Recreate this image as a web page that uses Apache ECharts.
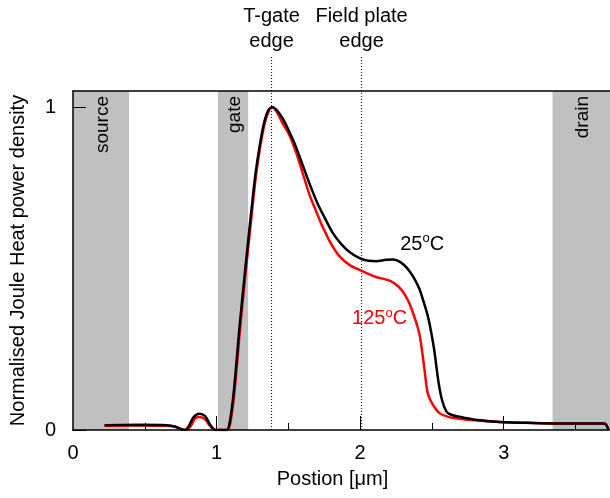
<!DOCTYPE html>
<html>
<head>
<meta charset="utf-8">
<script src="https://cdn.jsdelivr.net/npm/echarts@6/dist/echarts.min.js"></script>
<style>
  html, body { margin: 0; padding: 0; background: #fff; }
  #chart { width: 610px; height: 498px; }
</style>
</head>
<body>
<div id="chart"></div>
<script>
// position along the device [um] and normalised Joule heat density
const blackX = [0.22, 0.45, 0.65, 0.71, 0.75, 0.78, 0.81, 0.84, 0.88, 0.92, 0.95, 0.98, 1.00, 1.07,
  1.09, 1.12, 1.16, 1.20, 1.24, 1.27, 1.30, 1.33, 1.36, 1.39, 1.42, 1.46, 1.50, 1.55, 1.60, 1.65,
  1.70, 1.75, 1.81, 1.87, 1.93, 2.02, 2.11, 2.18, 2.23, 2.28, 2.33, 2.37, 2.41, 2.44, 2.47, 2.485,
  2.515, 2.545, 2.57, 2.60, 2.63, 2.70, 2.80, 2.97, 3.20, 3.50, 3.70, 3.73];
const blackY = [0.015, 0.016, 0.015, 0.011, 0.003, 0.0, 0.015, 0.04, 0.05, 0.043, 0.02, 0.002, 0.0, 0.0,
  0.02, 0.12, 0.32, 0.50, 0.67, 0.79, 0.88, 0.95, 0.99, 1.0, 0.99, 0.965, 0.93, 0.88, 0.82, 0.76,
  0.705, 0.66, 0.61, 0.575, 0.55, 0.528, 0.523, 0.527, 0.528, 0.52, 0.50, 0.474, 0.44, 0.40, 0.355, 0.325,
  0.25, 0.15, 0.093, 0.058, 0.048, 0.04, 0.032, 0.025, 0.022, 0.02, 0.02, 0.0];

const redX = [0.22, 0.45, 0.65, 0.71, 0.75, 0.79, 0.82, 0.85, 0.88, 0.92, 0.95, 0.98, 1.00, 1.075,
  1.095, 1.125, 1.165, 1.205, 1.245, 1.275, 1.305, 1.335, 1.365, 1.39, 1.42, 1.46, 1.50, 1.55, 1.60, 1.65,
  1.70, 1.74, 1.80, 1.86, 1.93, 2.00, 2.11, 2.21, 2.27, 2.31, 2.34, 2.37, 2.40, 2.42, 2.45, 2.47,
  2.50, 2.55, 2.62, 2.69, 2.80, 2.97, 3.20, 3.50, 3.70, 3.73];
const redY = [0.013, 0.014, 0.013, 0.01, 0.003, 0.0, 0.012, 0.035, 0.04, 0.033, 0.015, 0.002, 0.0, 0.0,
  0.02, 0.12, 0.32, 0.50, 0.67, 0.79, 0.88, 0.95, 0.99, 1.0, 0.985, 0.95, 0.92, 0.865, 0.795, 0.725,
  0.67, 0.628, 0.575, 0.536, 0.51, 0.495, 0.474, 0.462, 0.443, 0.42, 0.395, 0.36, 0.319, 0.28, 0.18, 0.115,
  0.083, 0.053, 0.04, 0.035, 0.03, 0.025, 0.022, 0.02, 0.02, 0.0];

// electrode regions (grey bands) and their names
const regionNames = ['source', 'gate', 'drain'];
const regionStart = [0, 1.01, 3.34];
const regionEnd = [0.39, 1.22, 3.74];

// vertical marker lines
const edgeNames = ['T-gate\nedge', 'Field plate\nedge'];
const edgeX = [1.383, 2.01];
const edgeTop = 1.16;

// curve labels
const curveNames = ['25', '125'];
const curveLabelX = [2.275, 1.94];
const curveLabelY = [0.576, 0.344];

const xMajorTicks = [1, 2, 3];
const xMinorTicks = [0.5, 1.5, 2.5, 3.5];
const xLabels = [0, 1, 2, 3];
const yTicks = [0, 1];

const FONT = 'Liberation Sans, Arial, sans-serif';

const chart = echarts.init(document.getElementById('chart'));

const tempLabel = (name, color) => ({
    show: true,
    position: 'right',
    distance: 0,
    formatter: name + '{sup|o}C',
    color: color,
    fontSize: 20,
    fontFamily: FONT,
    rich: {
        sup: { fontSize: 13, fontFamily: FONT, color: color, padding: [0, 0, 12, 0] }
    }
});

const edgeSeries = edgeX.map((x, i) => ({
    type: 'line',
    clip: false,
    silent: true,
    symbol: 'circle',
    symbolSize: 1,
    showSymbol: true,
    z: 4,
    itemStyle: { color: 'transparent' },
    lineStyle: { color: '#000', width: 1, type: [1, 2] },
    data: [
        [x, 0],
        {
            value: [x, edgeTop],
            label: {
                show: true,
                position: 'top',
                distance: 1,
                formatter: edgeNames[i],
                color: '#000',
                fontSize: 20,
                lineHeight: 25,
                fontFamily: FONT
            }
        }
    ]
}));

const option = {
    animation: false,
    backgroundColor: '#fff',
    textStyle: { fontFamily: FONT },
    grid: { left: 73, right: 0, top: 91, bottom: 68, outerBoundsMode: 'none' },
    xAxis: [
        {
            type: 'value',
            position: 'bottom',
            min: 0,
            max: 3.74,
            z: 10,
            axisLine: { onZero: false, lineStyle: { color: '#000', width: 1.5 } },
            axisTick: { inside: true, length: 14, customValues: xMajorTicks, lineStyle: { color: '#000', width: 1 } },
            axisLabel: { customValues: xLabels, margin: 13, color: '#000', fontSize: 20, fontFamily: FONT },
            splitLine: { show: false },
            name: 'Postion [\u03bcm]',
            nameLocation: 'middle',
            nameGap: 39,
            nameTextStyle: { color: '#000', fontSize: 20, fontFamily: FONT, padding: [0, 18, 0, 0] }
        },
        {
            type: 'value',
            position: 'bottom',
            min: 0,
            max: 3.74,
            z: 10,
            axisLine: { show: false, onZero: false },
            axisTick: { inside: true, length: 7, customValues: xMinorTicks, lineStyle: { color: '#000', width: 1 } },
            axisLabel: { show: false },
            splitLine: { show: false }
        },
        {
            type: 'value',
            position: 'top',
            min: 0,
            max: 3.74,
            z: 10,
            axisLine: { onZero: false, lineStyle: { color: '#000', width: 1.5 } },
            axisTick: { show: false },
            axisLabel: { show: false },
            splitLine: { show: false }
        }
    ],
    yAxis: {
        type: 'value',
        min: 0,
        max: 1.05,
        z: 10,
        axisLine: { show: true, onZero: false, lineStyle: { color: '#000', width: 1.5 } },
        axisTick: { show: true, inside: true, length: 13, customValues: yTicks, lineStyle: { color: '#000', width: 1 } },
        axisLabel: { customValues: yTicks, margin: 17, color: '#000', fontSize: 20, fontFamily: FONT },
        splitLine: { show: false },
        name: 'Normalised Joule Heat power density',
        nameLocation: 'middle',
        nameGap: 45,
        nameTextStyle: { color: '#000', fontSize: 20, fontFamily: FONT }
    },
    series: [
        {
            // grey electrode bands
            type: 'line',
            z: 1,
            silent: true,
            symbol: 'none',
            data: [],
            markArea: {
                silent: true,
                itemStyle: { color: '#c0c0c0' },
                label: {
                    show: true,
                    position: 'insideTop',
                    distance: 5,
                    rotate: 90,
                    align: 'right',
                    verticalAlign: 'middle',
                    offset: [0, 1.5],
                    color: '#000',
                    fontSize: 19,
                    fontFamily: FONT
                },
                data: regionNames.map((n, i) => [
                    { name: n, xAxis: regionStart[i] },
                    { xAxis: regionEnd[i] }
                ])
            }
        },
        ...edgeSeries,
        {
            name: '125',
            type: 'line',
            z: 5,
            symbol: 'none',
            smooth: 0.3,
            lineStyle: { color: '#ff0000', width: 2.5 },
            data: redX.map((x, i) => [x, redY[i]]),
            markPoint: {
                symbol: 'circle',
                symbolSize: 1,
                itemStyle: { color: 'transparent' },
                label: tempLabel(curveNames[1], '#ff0000'),
                data: [{ coord: [curveLabelX[1], curveLabelY[1]] }]
            }
        },
        {
            name: '25',
            type: 'line',
            z: 6,
            symbol: 'none',
            smooth: 0.3,
            lineStyle: { color: '#000', width: 2.5 },
            data: blackX.map((x, i) => [x, blackY[i]]),
            markPoint: {
                symbol: 'circle',
                symbolSize: 1,
                itemStyle: { color: 'transparent' },
                label: tempLabel(curveNames[0], '#000'),
                data: [{ coord: [curveLabelX[0], curveLabelY[0]] }]
            }
        }
    ]
};

chart.setOption(option);
</script>
</body>
</html>
